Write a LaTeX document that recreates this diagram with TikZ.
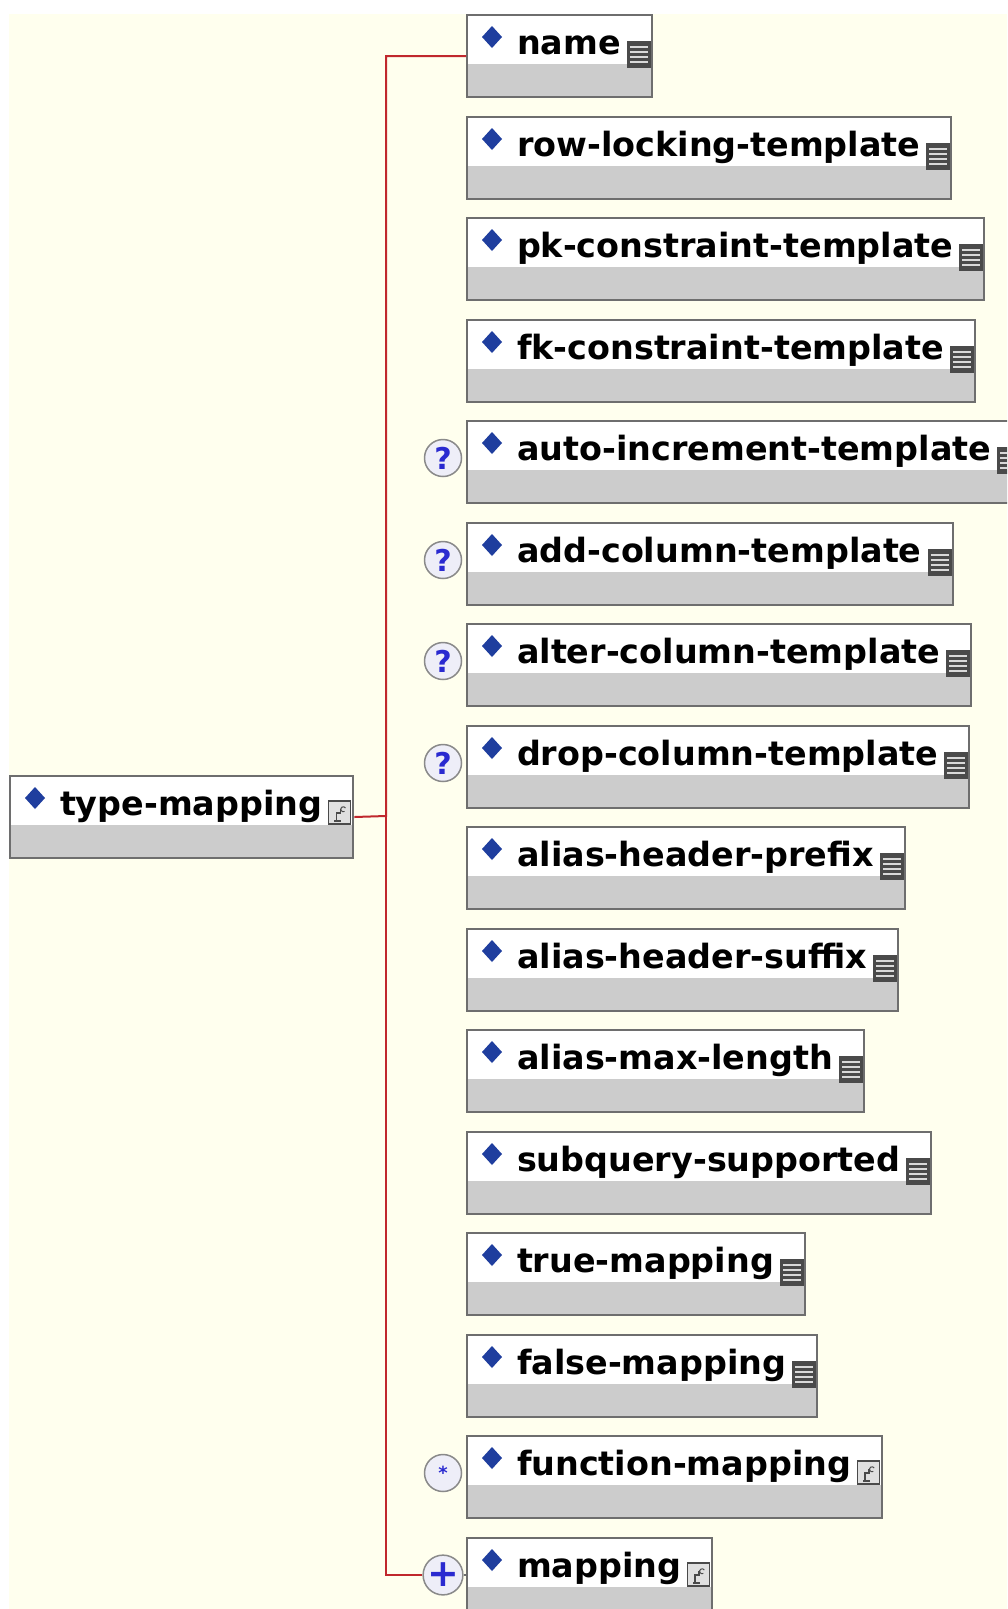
\documentclass[tikz,border=0pt]{standalone}
\usepackage{fontspec}
\setmainfont{DejaVu Sans}
\usetikzlibrary{calc}
\definecolor{paper}{HTML}{FFFFEE}
\definecolor{edge}{HTML}{6E6E6E}
\definecolor{band}{HTML}{CCCCCC}
\definecolor{diam}{HTML}{1F3E9E}
\definecolor{wirered}{HTML}{C0282D}
\definecolor{qblue}{HTML}{2A2AD0}
\definecolor{ring}{HTML}{8A8A8A}
\definecolor{ringfill}{HTML}{EEEEF8}
\definecolor{icondark}{HTML}{4A4A4A}

\begin{document}
\begin{tikzpicture}[x=1pt,y=-1pt,
  el/.style={draw=edge,line width=2pt,fill=white,anchor=north west,inner sep=0pt,
    text height=39pt,text depth=43pt,font=\bfseries\fontsize{33.4}{36}\selectfont,
    execute at begin node={\hspace*{50pt}},
    path picture={
      \fill[band] ([yshift=33pt]path picture bounding box.south west) rectangle (path picture bounding box.south east);
      \fill[diam] ([xshift=25pt,yshift=-22pt]path picture bounding box.north west)
        +(0pt,11pt) -- +(10pt,0pt) -- +(0pt,-11pt) -- +(-10pt,0pt) -- cycle;
      \coordinate (ic) at ([xshift=-25pt,yshift=-26pt]path picture bounding box.north east);
      #1}},
  simple/.style={el={
      \fill[icondark] (ic) rectangle ++(24pt,-27pt);
      \draw[white!70!gray,line width=1.6pt] ([shift={(3pt,-6pt)}]ic) -- ++(18pt,0pt)
        ([shift={(3pt,-11pt)}]ic) -- ++(18pt,0pt)
        ([shift={(3pt,-16pt)}]ic) -- ++(18pt,0pt)
        ([shift={(3pt,-21pt)}]ic) -- ++(18pt,0pt);},
    execute at end node={\hspace*{31pt}}},
  complex/.style={el={
      \filldraw[fill=band!60!white,draw=icondark,line width=1.2pt] ([shift={(0pt,1pt)}]ic) rectangle ++(22pt,-23pt);
      \draw[icondark,line width=1.8pt] ([shift={(6pt,-19pt)}]ic) -- ++(7pt,0pt)
        ([shift={(8pt,-19pt)}]ic) -- ++(0pt,8pt) -- ++(4pt,0pt) -- ++(0pt,4pt);
      \draw[icondark,line width=1pt] ([shift={(17pt,-6pt)}]ic) arc[start angle=30,end angle=300,radius=2.5pt];},
    execute at end node={\hspace*{31pt}}},
  occ/.style={circle,draw=ring,line width=1.5pt,fill=ringfill,minimum size=37pt,inner sep=0pt,
    text=qblue,font=\bfseries\fontsize{30}{30}\selectfont},
  wire/.style={draw=wirered,line width=2pt}]
  \useasboundingbox (0,0) rectangle (1007,1609);
  \clip (0,0) rectangle (1007,1609);
  \fill[white] (0,0) rectangle (1007,1609);
  \fill[paper] (9,14) rectangle (1007,1609);

  % root element
  \node[complex] (typemap) at (9,775) {type-mapping};

  % child elements
  \node[simple] (name) at (466,14) {name};
  \node[simple] (rowlock) at (466,116) {row-locking-template};
  \node[simple] (pkcon) at (466,217) {pk-constraint-template};
  \node[simple] (fkcon) at (466,319) {fk-constraint-template};
  \node[simple] (autoinc) at (466,420) {auto-increment-template};
  \node[simple] (addcol) at (466,522) {add-column-template};
  \node[simple] (altercol) at (466,623) {alter-column-template};
  \node[simple] (dropcol) at (466,725) {drop-column-template};
  \node[simple] (aliaspre) at (466,826) {alias-header-prefix};
  \node[simple] (aliassuf) at (466,928) {alias-header-suffix};
  \node[simple] (aliasmax) at (466,1029) {alias-max-length};
  \node[simple] (subquery) at (466,1131) {subquery-supported};
  \node[simple] (truemap) at (466,1232) {true-mapping};
  \node[simple] (falsemap) at (466,1334) {false-mapping};
  \node[complex] (funcmap) at (466,1435) {function-mapping};
  \node[complex] (mapping) at (466,1537) {mapping};

  % occurrence marks
  \node[occ] (optauto) at (443,458) {?};
  \node[occ] (optadd) at (443,560) {?};
  \node[occ] (optalter) at (443,661) {?};
  \node[occ] (optdrop) at (443,763) {?};
  \node[occ,font=\bfseries\fontsize{18}{18}\selectfont] (starfunc) at (443,1473) {*};
  \node[occ,font=\bfseries\fontsize{38}{38}\selectfont] (plusmap) at (443,1575) {+};

  \coordinate (spine) at (386,816);
  \draw[wire] (typemap.east) -- (spine) |- (name.west);
  \draw[wire] (spine) |- (plusmap.west);
  \draw[edge,line width=1.5pt] (plusmap.east) -- (mapping.west |- plusmap.east);
\end{tikzpicture}
\end{document}
